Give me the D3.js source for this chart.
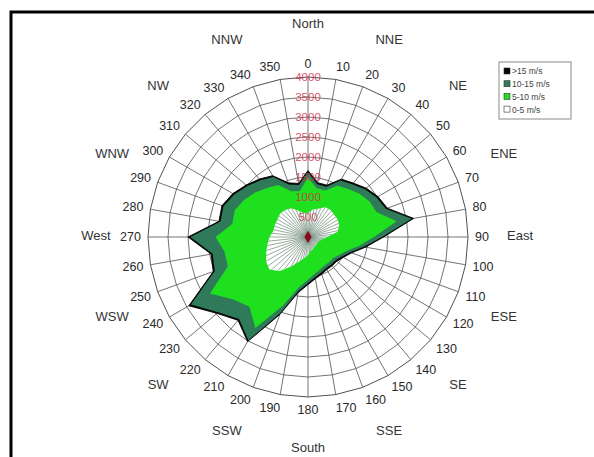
<!DOCTYPE html>
<html>
<head>
<meta charset="utf-8">
<script src="https://cdn.jsdelivr.net/npm/d3@7"></script>
<style>
  html, body { margin: 0; padding: 0; background: #fff; }
  svg { display: block; font-family: "Liberation Sans", Arial, sans-serif; }
</style>
</head>
<body>
<svg id="chart" width="594" height="457"></svg>
<script>
// Wind direction sectors (degrees)
const directions = [0, 10, 20, 30, 40, 50, 60, 70, 80, 90, 100, 110, 120, 130, 140, 150, 160, 170,
                    180, 190, 200, 210, 220, 230, 240, 250, 260, 270, 280, 290, 300, 310, 320, 330, 340, 350];

// Hours per sector for each wind speed class
const speed0to5 = [600, 700, 750, 860, 880, 860, 860, 830, 750, 480, 350, 300, 280, 280, 280, 300, 330, 350,
                   450, 530, 650, 860, 1110, 1260, 1210, 1110, 1030, 960, 880, 880, 880, 910, 880, 830, 700, 600];
const speed5to10 = [890, 540, 490, 620, 690, 820, 920, 990, 1500, 1170, 940, 720, 620, 540, 540, 520, 540, 590,
                    620, 740, 1170, 1770, 1170, 1170, 1620, 1020, 1090, 1350, 1040, 1070, 970, 820, 720, 670, 520, 570];
const speed10to15 = [130, 100, 100, 150, 150, 180, 200, 250, 380, 200, 130, 100, 80, 80, 80, 80, 80, 80,
                     80, 100, 200, 350, 400, 500, 550, 350, 300, 630, 300, 300, 280, 250, 250, 230, 180, 150];
const speedOver15 = [40, 40, 40, 40, 40, 40, 40, 40, 50, 40, 40, 40, 40, 40, 40, 40, 40, 40,
                     40, 40, 40, 40, 40, 40, 60, 40, 40, 60, 40, 40, 40, 40, 40, 40, 40, 40];

// Radial axis
const radialTicks = [500, 1000, 1500, 2000, 2500, 3000, 3500, 4000];
const radialMax = 4000;

// Compass point names, every 22.5 degrees
const compassNames = ["North", "NNE", "NE", "ENE", "East", "ESE", "SE", "SSE",
                      "South", "SSW", "SW", "WSW", "West", "WNW", "NW", "NNW"];

// Legend entries, top to bottom
const legendLabels = [">15 m/s", "10-15 m/s", "5-10 m/s", "0-5 m/s"];
const seriesKeys = ["s0", "s1", "s2", "s3"];
const seriesColors = ["#ffffff", "#1fe01f", "#2f7a58", "#050505"];

const svg = d3.select("#chart");
const cx = 308, cy = 237, R = 160;

const rows = directions.map((d, i) => ({
  dir: d, s0: speed0to5[i], s1: speed5to10[i], s2: speed10to15[i], s3: speedOver15[i]
}));
const stacked = d3.stack().keys(seriesKeys)(rows);

const r = d3.scaleLinear().domain([0, radialMax]).range([0, R]);
const a = d3.scaleLinear().domain([0, 360]).range([0, 2 * Math.PI]);

// Frame
svg.append("rect").attr("x", 11).attr("y", 12).attr("width", 640).attr("height", 520)
  .attr("fill", "none").attr("stroke", "#000").attr("stroke-width", 3);

const g = svg.append("g").attr("transform", `translate(${cx},${cy})`);

// Polygonal grid rings
radialTicks.forEach(t => {
  g.append("path")
    .attr("d", d3.lineRadial().angle(d => a(d)).radius(r(t)).curve(d3.curveLinearClosed)(directions))
    .attr("fill", "none").attr("stroke", "#505050").attr("stroke-width", t === radialMax ? 1 : 0.8);
});

// Spokes
g.selectAll("line.spoke").data(directions).join("line")
  .attr("class", "spoke")
  .attr("x1", 0).attr("y1", 0)
  .attr("x2", d => r(radialMax) * Math.sin(a(d)))
  .attr("y2", d => -r(radialMax) * Math.cos(a(d)))
  .attr("stroke", "#505050").attr("stroke-width", 0.8);

// Stacked wind-speed areas, outermost first
const area = d3.lineRadial()
  .angle(d => a(d.data.dir))
  .radius(d => r(d[1]))
  .curve(d3.curveLinearClosed);

stacked.slice().reverse().forEach(layer => {
  const idx = seriesKeys.indexOf(layer.key);
  g.append("path")
    .attr("d", area(layer))
    .attr("fill", seriesColors[idx])
    .attr("stroke", idx === 3 ? "#000" : "none")
    .attr("stroke-width", 0.9);
});

// Hatched fill of the 0-5 m/s class
g.append("clipPath").attr("id", "calmClip")
  .append("path").attr("d", area(stacked[0]));
g.append("g").attr("clip-path", "url(#calmClip)")
  .selectAll("line").data(d3.range(0, 360, 6)).join("line")
  .attr("x1", 0).attr("y1", 0)
  .attr("x2", d => r(radialMax) * Math.sin(a(d)))
  .attr("y2", d => -r(radialMax) * Math.cos(a(d)))
  .attr("stroke", "#7a9484").attr("stroke-width", 0.8);

// Centre marker
g.append("path").attr("d", d3.symbol(d3.symbolDiamond, 44)())
  .attr("fill", "#8a0c1c");

// Radial value labels along the north spoke
g.selectAll("text.rtick").data(radialTicks).join("text")
  .attr("class", "rtick")
  .attr("x", 0).attr("y", d => -r(d))
  .attr("dy", "0.35em")
  .attr("text-anchor", "middle")
  .attr("font-size", 11.5)
  .attr("fill", "#d0304a").attr("fill-opacity", 0.85)
  .text(d => d);

// Direction (degree) labels around the outside, box corner nearest the ring
const labelFont = 12.5;
g.selectAll("text.dir").data(directions).join("text")
  .attr("class", "dir")
  .attr("font-size", labelFont)
  .attr("fill", "#2a2a2a")
  .attr("text-anchor", "middle")
  .attr("dy", "0.35em")
  .each(function (d) {
    const s = Math.sin(a(d)), c = Math.cos(a(d));
    const halfW = String(d).length * labelFont * 0.28;
    const halfH = labelFont * 0.48;
    const rr = R + 7;
    const ox = halfW * Math.max(-1, Math.min(1, s * 5));
    const oy = -halfH * c;
    d3.select(this).attr("x", rr * s + ox).attr("y", -rr * c + oy);
  })
  .text(d => d);

// Compass point names
const nameRadius = 212;
g.selectAll("text.compass").data(compassNames).join("text")
  .attr("class", "compass")
  .attr("font-size", 13)
  .attr("fill", "#333")
  .attr("text-anchor", "middle")
  .attr("dy", "0.35em")
  .attr("x", (d, i) => nameRadius * Math.sin(a(i * 22.5)))
  .attr("y", (d, i) => -nameRadius * Math.cos(a(i * 22.5)) - 2)
  .text(d => d);

// Legend
const legend = svg.append("g").attr("transform", "translate(499,62)");
legend.append("rect").attr("width", 72).attr("height", 57)
  .attr("fill", "#fff").attr("stroke", "#8a8a8a").attr("stroke-width", 1);
const legendColors = seriesColors.slice().reverse();
legendLabels.forEach((lab, i) => {
  const row = legend.append("g").attr("transform", `translate(5,${9.5 + i * 12.7})`);
  row.append("rect").attr("x", 0).attr("y", -3.5).attr("width", 6).attr("height", 6)
    .attr("fill", legendColors[i]).attr("stroke", "#333").attr("stroke-width", 0.6);
  row.append("text").attr("x", 8).attr("y", 0).attr("dy", "0.35em")
    .attr("font-size", 8.5).attr("fill", "#444").text(lab);
});
</script>
</body>
</html>
